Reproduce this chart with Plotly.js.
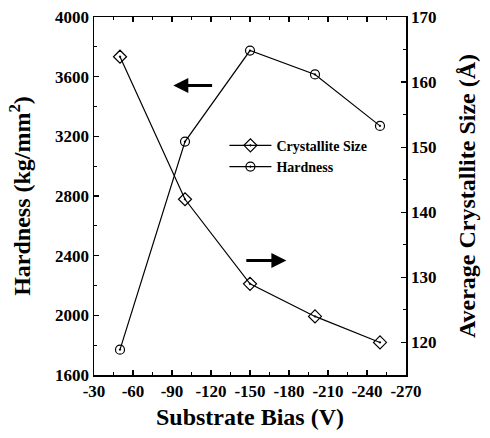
<!DOCTYPE html>
<html>
<head>
<meta charset="utf-8">
<script src="https://cdn.plot.ly/plotly-3.0.1.min.js"></script>
<style>html,body{margin:0;padding:0;background:#fff;}#chart{width:490px;height:438px;}</style>
</head>
<body>
<div id="chart"></div>
<script>
var bias = [-50, -100, -150, -200, -250];
var crystalliteSize = [163.9, 142, 129, 124, 120];
var hardness = [1770, 3165, 3775, 3615, 3270];

var xTickVals = [-30, -60, -90, -120, -150, -180, -210, -240, -270];
var xTickText = ['-30', '-60', '-90', '-120', '-150', '-180', '-210', '-240', '-270'];

// arrow annotations (data coordinates): [tailX, headX, y]
var leftArrow = [-122, -91, 3540];
var rightArrow = [-146, -178, 132.6];

var F = 'Liberation Serif';
var tickFont = {family: F, size: 17, color: '#000', weight: 'bold'};
var titleFont = {family: F, size: 24, color: '#000', weight: 'bold'};

var traces = [
  {
    x: bias, y: crystalliteSize, yaxis: 'y2', name: 'Crystallite Size',
    mode: 'lines+markers', type: 'scatter',
    line: {color: '#000', width: 1.2},
    marker: {symbol: 'diamond-open-dot', size: 10, color: '#000', line: {width: 1.2, color: '#000'}}
  },
  {
    x: bias, y: hardness, yaxis: 'y', name: 'Hardness',
    mode: 'lines+markers', type: 'scatter',
    line: {color: '#000', width: 1.2},
    marker: {symbol: 'circle-open-dot', size: 9, color: '#000', line: {width: 1.2, color: '#000'}}
  }
];

var layout = {
  width: 490, height: 438,
  margin: {l: 94, r: 84, t: 17, b: 63},
  paper_bgcolor: '#fff', plot_bgcolor: '#fff',
  font: {family: F, color: '#000'},
  showlegend: true,
  legend: {
    x: 0.418, y: 0.685, xanchor: 'left', yanchor: 'top',
    bgcolor: 'rgba(0,0,0,0)',
    font: {family: F, size: 14, color: '#000', weight: 'bold'},
    itemwidth: 42,
    tracegroupgap: 0
  },
  xaxis: {
    range: [-30, -270],
    tickmode: 'array', tickvals: xTickVals, ticktext: xTickText,
    ticks: 'inside', ticklen: 5, tickwidth: 1.2, tickcolor: '#000',
    minor: {dtick: 15, tick0: -30, ticks: 'inside', ticklen: 3, tickwidth: 1, tickcolor: '#000'},
    showline: true, linecolor: '#000', linewidth: 1.5, mirror: 'ticks',
    showgrid: false, zeroline: false,
    tickfont: tickFont,
    title: {text: 'Substrate Bias (V)', font: titleFont, standoff: 8}
  },
  yaxis: {
    range: [1600, 4000],
    tick0: 1600, dtick: 400,
    ticks: 'inside', ticklen: 5, tickwidth: 1.2, tickcolor: '#000',
    minor: {dtick: 200, ticks: 'inside', ticklen: 3, tickwidth: 1, tickcolor: '#000'},
    showline: true, linecolor: '#000', linewidth: 1.5,
    showgrid: false, zeroline: false,
    tickfont: tickFont,
    title: {text: 'Hardness (kg/mm<sup>2</sup>)', font: titleFont, standoff: 17}
  },
  yaxis2: {
    range: [115, 170],
    overlaying: 'y', side: 'right',
    tick0: 120, dtick: 10,
    ticks: 'inside', ticklen: 5, tickwidth: 1.2, tickcolor: '#000',
    minor: {dtick: 5, ticks: 'inside', ticklen: 3, tickwidth: 1, tickcolor: '#000'},
    showline: true, linecolor: '#000', linewidth: 1.5,
    showgrid: false, zeroline: false,
    tickfont: tickFont,
    title: {text: 'Average Crystallite Size (Å)', font: titleFont, standoff: 23}
  },
  annotations: [
    {x: leftArrow[1], y: leftArrow[2], ax: leftArrow[0], ay: leftArrow[2],
     xref: 'x', yref: 'y', axref: 'x', ayref: 'y', text: '',
     showarrow: true, arrowhead: 2, arrowsize: 1, arrowwidth: 3, arrowcolor: '#000'},
    {x: rightArrow[1], y: rightArrow[2], ax: rightArrow[0], ay: rightArrow[2],
     xref: 'x', yref: 'y2', axref: 'x', ayref: 'y2', text: '',
     showarrow: true, arrowhead: 2, arrowsize: 1, arrowwidth: 3, arrowcolor: '#000'}
  ]
};

Plotly.newPlot('chart', traces, layout, {displayModeBar: false, staticPlot: true});
</script>
</body>
</html>
